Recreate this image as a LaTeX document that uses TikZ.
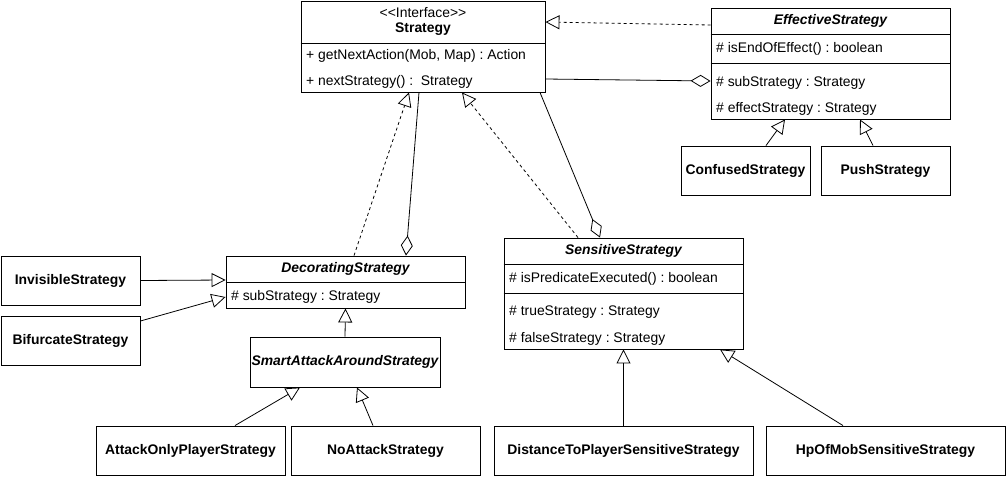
\documentclass[tikz,border=0pt]{standalone}
\usepackage{fontspec}
\setmainfont{Liberation Sans}
\usetikzlibrary{arrows.meta}
\frenchspacing
\tikzstyle{box}=[rectangle,draw=black,line width=0.9pt,inner sep=0pt,anchor=center,fill=white]
\tikzstyle{annot}=[anchor=west,inner sep=0pt,font=\fontsize{13.9}{16}\selectfont]
\tikzstyle{title}=[inner sep=0pt,font=\fontsize{13.9}{16}\selectfont\bfseries]
\tikzstyle{ititle}=[inner sep=0pt,font=\fontsize{13.9}{16}\selectfont\bfseries\itshape]
\tikzstyle{realize}=[line width=0.8pt,dash pattern=on 3pt off 3pt,-{Triangle[open,length=14pt,width=14pt]}]
\tikzstyle{inherit}=[line width=0.8pt,-{Triangle[open,length=14pt,width=14pt]}]
\tikzstyle{aggr}=[line width=0.8pt,-{Diamond[open,length=20pt,width=12pt]}]
\newcommand{\divider}[2]
{
  \draw[line width=0.9pt] (#1.west |- 0,#2) -- (#1.east |- 0,#2);
}

\begin{document}
\begin{tikzpicture}[x=1pt,y=-1pt]
	\useasboundingbox (0,0) rectangle (1007,477);

	% interface
	\node[box, minimum width=244pt, minimum height=91pt](strategy) at (423,46.5){};
	\node[inner sep=0pt, font=\fontsize{13.9}{16}\selectfont](strategyst) at (423,12.5){<\kern0pt<Interface>\kern0pt>};
	\node[title](strategyname) at (423,29.5){Strategy};
	\divider{strategy}{43}
	\node[annot](strategyop1) at (306,55.5){+ getNextAction(Mob, Map) : Action};
	\node[annot](strategyop2) at (306,81.5){+ nextStrategy() :\ \ Strategy};

	% effects
	\node[box, minimum width=239pt, minimum height=111pt](effective) at (830.5,63.5){};
	\node[ititle](effectivename) at (830.5,20.5){EffectiveStrategy};
	\divider{effective}{34}
	\node[annot](effectiveop1) at (716,48.5){\# isEndOfEffect() : boolean};
	\divider{effective}{63}
	\node[annot](effectiveat1) at (716,82.5){\# subStrategy : Strategy};
	\node[annot](effectiveat2) at (716,108.5){\# effectStrategy : Strategy};
	\node[box, minimum width=129pt, minimum height=49pt, title](confused) at (745.5,170.5){ConfusedStrategy};
	\node[box, minimum width=129pt, minimum height=49pt, title](push) at (885.5,170.5){PushStrategy};

	% decorators
	\node[box, minimum width=239pt, minimum height=52pt](decorating) at (345.5,282){};
	\node[ititle](decoratingname) at (345.5,268.5){DecoratingStrategy};
	\divider{decorating}{282}
	\node[annot](decoratingat1) at (231,296.5){\# subStrategy : Strategy};
	\node[box, minimum width=139pt, minimum height=49pt, title](invisible) at (70.5,280.5){InvisibleStrategy};
	\node[box, minimum width=139pt, minimum height=49pt, title](bifurcate) at (70.5,340.5){BifurcateStrategy};
	\node[box, minimum width=190pt, minimum height=50pt, ititle](smart) at (345,362){SmartAttackAroundStrategy};
	\node[box, minimum width=189pt, minimum height=49pt, title](attackonly) at (190.5,450.5){AttackOnlyPlayerStrategy};
	\node[box, minimum width=189pt, minimum height=49pt, title](noattack) at (385.5,450.5){NoAttackStrategy};

	% sensitive
	\node[box, minimum width=239pt, minimum height=111pt](sensitive) at (623.5,293.5){};
	\node[ititle](sensitivename) at (623.5,250.5){SensitiveStrategy};
	\divider{sensitive}{264}
	\node[annot](sensitiveop1) at (509,278.5){\# isPredicateExecuted() : boolean};
	\divider{sensitive}{293}
	\node[annot](sensitiveat1) at (509,312.5){\# trueStrategy : Strategy};
	\node[annot](sensitiveat2) at (509,338.5){\# falseStrategy : Strategy};
	\node[box, minimum width=259pt, minimum height=49pt, title](distance) at (623.5,450.5){DistanceToPlayerSensitiveStrategy};
	\node[box, minimum width=239pt, minimum height=49pt, title](hpofmob) at (885.5,450.5){HpOfMobSensitiveStrategy};

	% relations
	\draw[realize] ([yshift=38.5pt]effective.west) -- ([yshift=24.5pt]strategy.east);
	\draw[aggr] ([yshift=-32.5pt]strategy.east) -- ([yshift=-17.5pt]effective.west);
	\draw[inherit] ([xshift=20.5pt]confused.north) -- ([xshift=-45.5pt]effective.south);
	\draw[inherit] ([xshift=-12.5pt]push.north) -- ([xshift=29.5pt]effective.south);

	\draw[realize] ([xshift=8.5pt]decorating.north) -- ([xshift=-14pt]strategy.south);
	\draw[aggr] ([xshift=-4pt]strategy.south) -- ([xshift=60.5pt]decorating.north);
	\draw[realize] ([xshift=-45.5pt]sensitive.north) -- ([xshift=39pt]strategy.south);
	\draw[aggr] ([xshift=117pt]strategy.south) -- ([xshift=-23.5pt]sensitive.north);

	\draw[inherit] (invisible.east) -- ([yshift=2pt]decorating.west);
	\draw[inherit] ([yshift=19.5pt]bifurcate.east) -- ([yshift=-15pt]decorating.west);
	\draw[inherit] (smart.north) -- (decorating.south);
	\draw[inherit] ([xshift=44.5pt]attackonly.north) -- ([xshift=-45pt]smart.south);
	\draw[inherit] ([xshift=-12.5pt]noattack.north) -- ([xshift=12pt]smart.south);

	\draw[inherit] (distance.north) -- (sensitive.south);
	\draw[inherit] ([xshift=-42.5pt]hpofmob.north) -- ([xshift=96.5pt]sensitive.south);

\end{tikzpicture}
\end{document}
